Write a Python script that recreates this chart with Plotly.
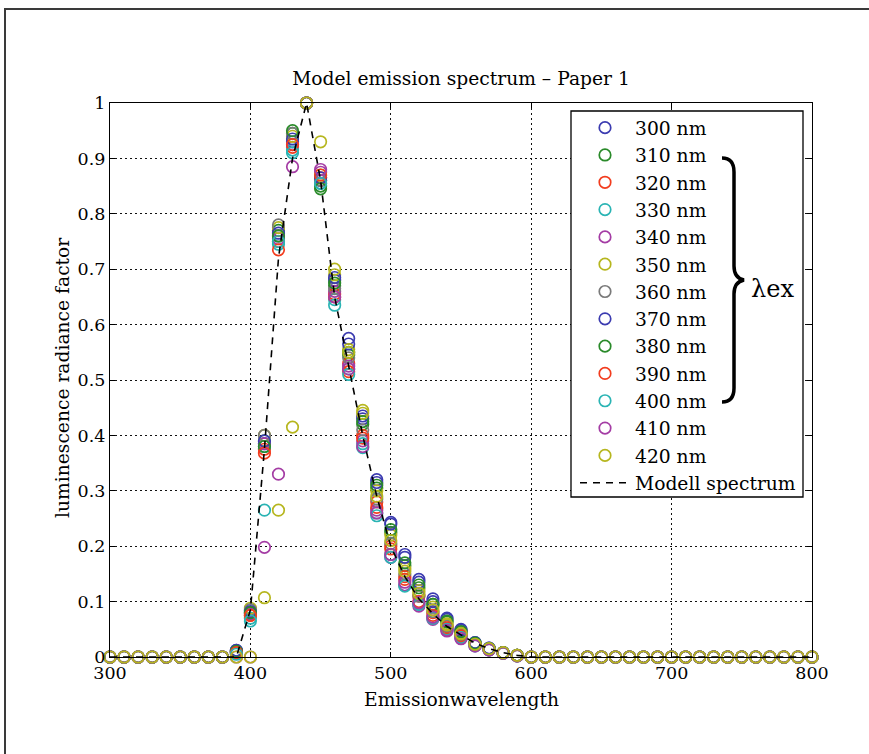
import plotly.graph_objects as go

# ---------------- data ----------------
emission_nm = [300, 310, 320, 330, 340, 350, 360, 370, 380, 390,
               400, 410, 420, 430, 440, 450, 460, 470, 480, 490,
               500, 510, 520, 530, 540, 550, 560, 570, 580, 590,
               600, 610, 620, 630, 640, 650, 660, 670, 680, 690,
               700, 710, 720, 730, 740, 750, 760, 770, 780, 790, 800]

Z9 = [0, 0, 0, 0, 0, 0, 0, 0, 0]
Z21 = [0, 0, 0, 0, 0, 0, 0, 0, 0, 0, 0, 0, 0, 0, 0, 0, 0, 0, 0, 0, 0]

ex300 = Z9 + [0.012, 0.085, 0.385, 0.76, 0.93, 1.0, 0.86, 0.68, 0.575, 0.43, 0.32, 0.243, 0.185, 0.14, 0.105, 0.07, 0.05, 0.026, 0.016, 0.008, 0.003] + Z21
ex310 = Z9 + [0.01, 0.08, 0.39, 0.77, 0.945, 1.0, 0.85, 0.67, 0.545, 0.42, 0.305, 0.225, 0.165, 0.125, 0.095, 0.063, 0.045, 0.024, 0.015, 0.008, 0.003] + Z21
ex320 = Z9 + [0.01, 0.075, 0.375, 0.75, 0.92, 1.0, 0.865, 0.655, 0.53, 0.40, 0.28, 0.20, 0.145, 0.11, 0.08, 0.055, 0.04, 0.022, 0.014, 0.007, 0.003] + Z21
ex330 = Z9 + [0.008, 0.07, 0.38, 0.745, 0.915, 1.0, 0.855, 0.645, 0.52, 0.385, 0.26, 0.185, 0.13, 0.095, 0.07, 0.05, 0.036, 0.021, 0.013, 0.007, 0.002] + Z21
ex340 = Z9 + [0.008, 0.078, 0.385, 0.755, 0.925, 1.0, 0.875, 0.66, 0.525, 0.39, 0.265, 0.18, 0.13, 0.092, 0.068, 0.047, 0.034, 0.02, 0.013, 0.007, 0.002] + Z21
ex350 = Z9 + [0.006, 0.088, 0.40, 0.775, 0.94, 1.0, 0.87, 0.69, 0.555, 0.445, 0.30, 0.22, 0.16, 0.12, 0.09, 0.06, 0.043, 0.023, 0.015, 0.008, 0.003] + Z21
ex360 = Z9 + [0.01, 0.085, 0.40, 0.78, 0.945, 1.0, 0.86, 0.665, 0.54, 0.41, 0.285, 0.205, 0.15, 0.11, 0.082, 0.056, 0.04, 0.022, 0.014, 0.008, 0.003] + Z21
ex370 = Z9 + [0.012, 0.082, 0.39, 0.765, 0.935, 1.0, 0.865, 0.685, 0.565, 0.435, 0.315, 0.24, 0.18, 0.135, 0.10, 0.068, 0.048, 0.026, 0.016, 0.008, 0.003] + Z21
ex380 = Z9 + [0.01, 0.08, 0.38, 0.76, 0.95, 1.0, 0.845, 0.675, 0.55, 0.425, 0.31, 0.23, 0.17, 0.13, 0.095, 0.065, 0.046, 0.025, 0.015, 0.008, 0.003] + Z21
ex390 = Z9 + [0.008, 0.075, 0.368, 0.735, 0.925, 1.0, 0.87, 0.65, 0.515, 0.395, 0.27, 0.195, 0.14, 0.10, 0.075, 0.052, 0.038, 0.021, 0.013, 0.007, 0.002] + Z21
ex400 = Z9 + [0.005, 0.065, 0.265, 0.75, 0.91, 1.0, 0.855, 0.635, 0.51, 0.378, 0.255, 0.18, 0.128, 0.095, 0.07, 0.05, 0.035, 0.02, 0.013, 0.007, 0.002] + Z21
ex410 = Z9 + [0, 0, 0.198, 0.33, 0.885, 1.0, 0.88, 0.65, 0.52, 0.38, 0.26, 0.185, 0.135, 0.098, 0.072, 0.048, 0.033, 0.02, 0.013, 0.007, 0.002] + Z21
ex420 = Z9 + [0, 0, 0.107, 0.265, 0.415, 1.0, 0.93, 0.70, 0.55, 0.44, 0.29, 0.21, 0.155, 0.115, 0.085, 0.058, 0.042, 0.023, 0.015, 0.008, 0.003] + Z21

model = Z9 + [0, 0.085, 0.375, 0.72, 0.90, 1.0, 0.86, 0.65, 0.525, 0.40, 0.29, 0.20, 0.145, 0.105, 0.078, 0.055, 0.04, 0.025, 0.015, 0.008, 0.003] + Z21

series_names = ["300 nm", "310 nm", "320 nm", "330 nm", "340 nm", "350 nm", "360 nm",
                "370 nm", "380 nm", "390 nm", "400 nm", "410 nm", "420 nm"]
series_values = [ex300, ex310, ex320, ex330, ex340, ex350, ex360,
                 ex370, ex380, ex390, ex400, ex410, ex420]
series_colors = ["#3b3bb0", "#2a8a2a", "#f23c1e", "#2ab4b4", "#a43ca4", "#b6b61e", "#7a7a7a",
                 "#3b3bb0", "#2a8a2a", "#f23c1e", "#2ab4b4", "#a43ca4", "#b6b61e"]

x_ticks = [300, 400, 500, 600, 700, 800]
y_ticks = [0, 0.1, 0.2, 0.3, 0.4, 0.5, 0.6, 0.7, 0.8, 0.9, 1]
y_ticklabels = ["0", "0.1", "0.2", "0.3", "0.4", "0.5", "0.6", "0.7", "0.8", "0.9", "1"]

FONT = "DejaVu Serif"
FS = 18.7

# ---------------- figure ----------------
fig = go.Figure()
for name, vals, col in zip(series_names, series_values, series_colors):
    fig.add_trace(go.Scatter(
        x=emission_nm, y=vals, mode="markers", name=name,
        marker=dict(symbol="circle-open", size=11.5, color=col, line=dict(width=1.7)),
        cliponaxis=False))
fig.add_trace(go.Scatter(
    x=emission_nm, y=model, mode="lines", name="Modell spectrum",
    line=dict(color="black", width=1.6, dash="7px,6px")))

W, H = 869, 754
L, R, T, B = 110, 57, 103, 97
PW, PH = W - L - R, H - T - B


def px(xp):
    return (xp - L) / PW


def py(yp):
    return (H - B - yp) / PH


axis_common = dict(showline=True, linecolor="black", linewidth=1.3, mirror="ticks",
                   ticks="inside", ticklen=5, tickcolor="black",
                   showgrid=True, gridcolor="#111", gridwidth=1, griddash="2px,3px",
                   zeroline=False, tickfont=dict(family=FONT, size=17.5, color="black"))

fig.update_xaxes(range=[300, 800], tickvals=x_ticks, **axis_common)
fig.update_yaxes(range=[0, 1], tickvals=y_ticks, ticktext=y_ticklabels, **axis_common)

# curly brace grouping the excitation entries
brace = (f"M {px(722)},{py(158)} Q {px(734)},{py(158)} {px(734)},{py(172)} "
         f"L {px(734)},{py(266)} Q {px(734)},{py(278)} {px(744)},{py(280)} "
         f"Q {px(734)},{py(282)} {px(734)},{py(294)} "
         f"L {px(734)},{py(388)} Q {px(734)},{py(402)} {px(722)},{py(402)}")

fig.update_layout(
    width=W, height=H,
    margin=dict(l=L, r=R, t=T, b=B),
    paper_bgcolor="white", plot_bgcolor="white",
    font=dict(family=FONT, size=FS, color="black"),
    title=dict(text="Model emission spectrum – Paper 1", x=0.5, xref="paper",
               y=1 - 78 / H, yref="container", yanchor="middle", xanchor="center",
               font=dict(family=FONT, size=FS, color="black")),
    legend=dict(x=px(575), y=py(109), xanchor="left", yanchor="top",
                bgcolor="rgba(0,0,0,0)", borderwidth=0, itemwidth=50,
                font=dict(family=FONT, size=FS, color="black")),
    shapes=[
        dict(type="rect", xref="paper", yref="paper", x0=px(5), y0=py(900), x1=px(1000), y1=py(9),
             line=dict(color="#3a3a3a", width=2), layer="below"),
        dict(type="rect", xref="paper", yref="paper", x0=px(571), y0=py(497), x1=px(803), y1=py(111),
             line=dict(color="black", width=1.3), fillcolor="white", layer="above"),
        dict(type="path", xref="paper", yref="paper", path=brace,
             line=dict(color="black", width=3.5), layer="above"),
    ],
    annotations=[
        dict(text="Emissionwavelength", xref="paper", yref="paper", x=0.5, y=py(699),
             xanchor="center", yanchor="middle", showarrow=False,
             font=dict(family=FONT, size=FS, color="black")),
        dict(text="luminescence radiance factor", xref="paper", yref="paper", x=px(62), y=py(378),
             xanchor="center", yanchor="middle", textangle=-90, showarrow=False,
             font=dict(family=FONT, size=FS, color="black")),
        dict(text="λex", xref="paper", yref="paper", x=px(772), y=py(289),
             xanchor="center", yanchor="middle", showarrow=False,
             font=dict(family=FONT, size=24, color="black")),
    ],
)

fig.write_html("out.html", config={"displayModeBar": False},
               post_script="document.body.style.margin='0';document.body.style.overflow='hidden';")
